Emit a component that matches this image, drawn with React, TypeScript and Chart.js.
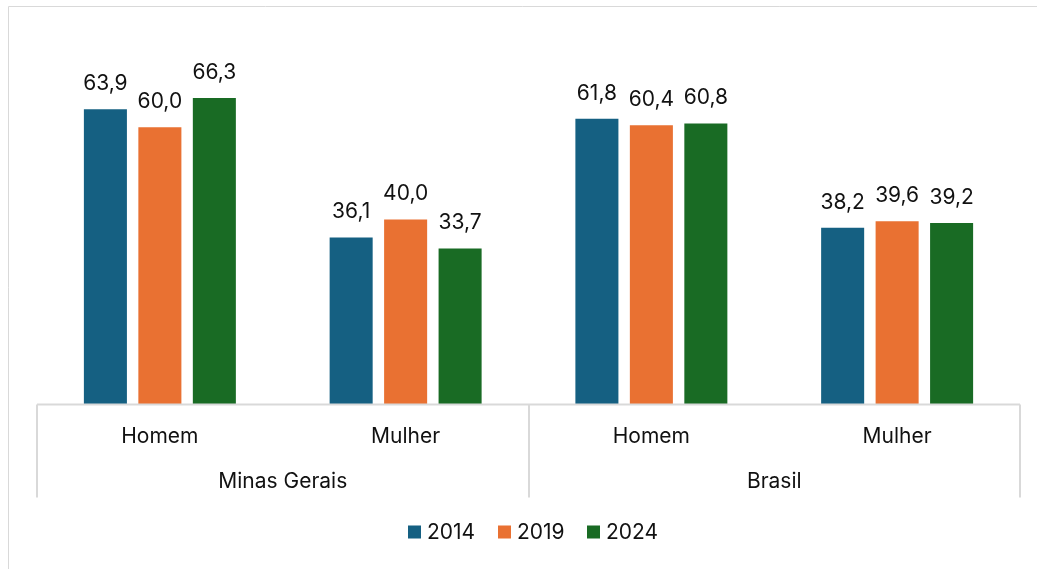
import React, { useEffect, useRef } from "react";
import { Chart, registerables } from "chart.js";

Chart.register(...registerables);

const categories = ["Homem", "Mulher", "Homem", "Mulher"];
const groups = ["Minas Gerais", "Brasil"];
const seriesLabels = ["2014", "2019", "2024"];
const values2014 = [63.9, 36.1, 61.8, 38.2];
const values2019 = [60.0, 40.0, 60.4, 39.6];
const values2024 = [66.3, 33.7, 60.8, 39.2];
const colors = ["#156082", "#E97132", "#196B24"];

const FONT = "Inter, 'Open Sans', sans-serif";
const TEXT = "#111111";
const LINE = "#d9d9d9";

const decorPlugin = {
  id: "decor",
  afterDatasetsDraw(chart: any) {
    const ctx = chart.ctx;
    const xs = chart.scales.x;
    const area = chart.chartArea;
    ctx.save();
    // data labels
    ctx.fillStyle = TEXT;
    ctx.font = `21px ${FONT}`;
    ctx.textAlign = "center";
    ctx.textBaseline = "alphabetic";
    chart.data.datasets.forEach((ds: any, di: number) => {
      const meta = chart.getDatasetMeta(di);
      meta.data.forEach((el: any, i: number) => {
        const v = ds.data[i] as number;
        ctx.fillText(v.toFixed(1).replace(".", ","), el.x, el.y - 19);
      });
    });
    // frame
    ctx.strokeStyle = LINE;
    ctx.lineWidth = 1;
    ctx.beginPath();
    ctx.moveTo(8.5, chart.height);
    ctx.lineTo(8.5, 6.5);
    ctx.lineTo(chart.width, 6.5);
    ctx.stroke();
    // axis line
    const base = Math.round(area.bottom) + 0.5;
    const left = area.left;
    const right = area.right;
    const step = xs.getPixelForValue(1) - xs.getPixelForValue(0);
    ctx.lineWidth = 2;
    ctx.beginPath();
    ctx.moveTo(left, base);
    ctx.lineTo(right, base);
    const sepX = [left, xs.getPixelForValue(1) + step / 2, right];
    sepX.forEach((x) => {
      ctx.moveTo(Math.round(x), base);
      ctx.lineTo(Math.round(x), base + 93);
    });
    ctx.stroke();
    // category labels
    ctx.textBaseline = "middle";
    ctx.font = `21px ${FONT}`;
    categories.forEach((c, i) => {
      ctx.fillText(c, xs.getPixelForValue(i), base + 32);
    });
    groups.forEach((g, gi) => {
      const cx = (xs.getPixelForValue(gi * 2) + xs.getPixelForValue(gi * 2 + 1)) / 2;
      ctx.fillText(g, cx, base + 77);
    });
    // legend
    ctx.textAlign = "left";
    const legY = base + 128;
    const starts = [408, 498, 587];
    seriesLabels.forEach((s, i) => {
      ctx.fillStyle = colors[i];
      ctx.fillRect(starts[i], legY - 7, 13, 13);
      ctx.fillStyle = TEXT;
      ctx.fillText(s, starts[i] + 19, legY);
    });
    ctx.restore();
  },
};

export default function App() {
  const ref = useRef<HTMLCanvasElement | null>(null);
  useEffect(() => {
    if (!ref.current) return;
    const chart = new Chart(ref.current, {
      type: "bar",
      data: {
        labels: categories,
        datasets: [
          { label: seriesLabels[0], data: values2014, backgroundColor: colors[0] },
          { label: seriesLabels[1], data: values2019, backgroundColor: colors[1] },
          { label: seriesLabels[2], data: values2024, backgroundColor: colors[2] },
        ],
      },
      options: {
        animation: false,
        responsive: false,
        devicePixelRatio: 1,
        datasets: { bar: { categoryPercentage: 0.665, barPercentage: 0.79 } },
        layout: { padding: { left: 37, right: 17, top: 81, bottom: 165 } },
        plugins: { legend: { display: false }, tooltip: { enabled: false }, title: { display: false } },
        scales: {
          x: { display: false },
          y: { display: false, min: 0, max: 70 },
        },
      },
      plugins: [decorPlugin],
    });
    return () => chart.destroy();
  }, []);
  return (
    <div style={{ position: "fixed", left: 0, top: 0, width: 1037, height: 569, background: "#fff" }}>
      <canvas ref={ref} width={1037} height={569} style={{ display: "block" }} />
    </div>
  );
}
